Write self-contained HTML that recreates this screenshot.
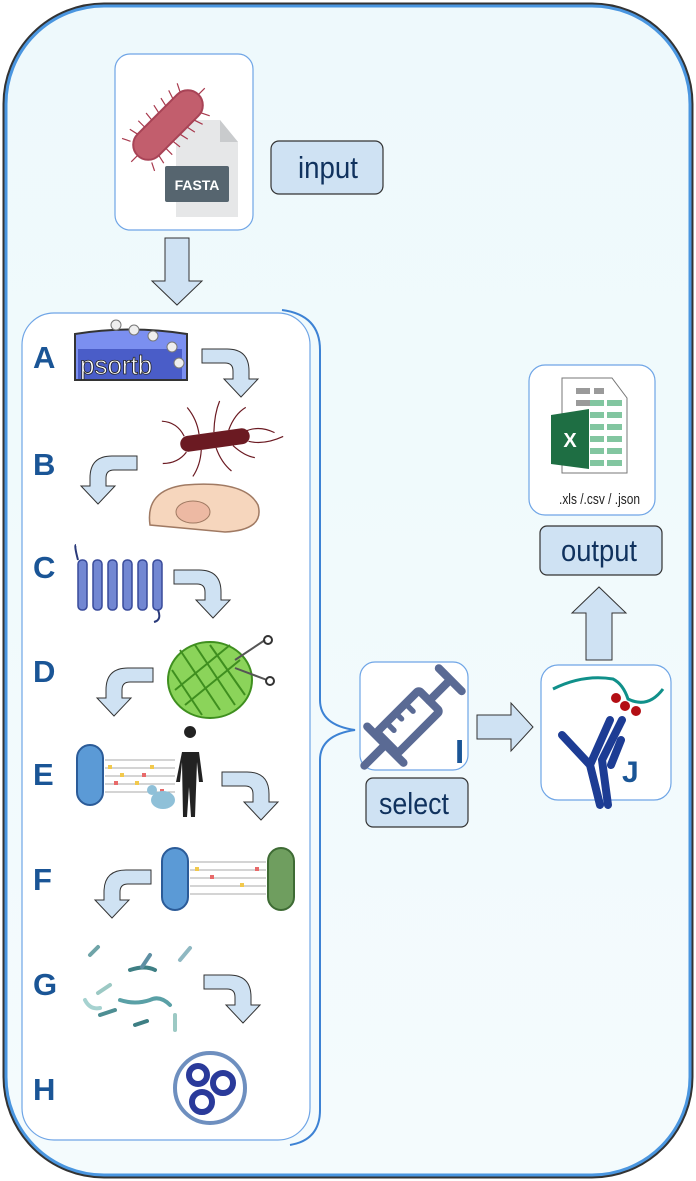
<!DOCTYPE html>
<html><head><style>
html,body{margin:0;padding:0;background:#fff;}
svg{display:block}
text{font-family:"Liberation Sans",sans-serif}
.lbl{fill:#10325e}
.L{font-size:31px;font-weight:bold;fill:#1a5596}
</style></head><body>
<svg width="696" height="1181" viewBox="0 0 696 1181" xmlns="http://www.w3.org/2000/svg">
<defs>
<linearGradient id="bg" x1="0" y1="0" x2="0" y2="1"><stop offset="0" stop-color="#eef9fc"/><stop offset="1" stop-color="#f4fbfd"/></linearGradient>
<path id="ca" d="M0 0 h25 q22 0 22 22 v8 h9 l-17 18 l-17 -18 h9 v-8 q0 -8 -8 -8 h-23z" fill="#cfe2f3" stroke="#333" stroke-width="1"/>
</defs>
<rect x="0" y="0" width="696" height="1181" fill="#fff"/>
<rect x="4" y="4" width="688" height="1173" rx="100" fill="url(#bg)" stroke="#333" stroke-width="3"/>
<rect x="6" y="6" width="684" height="1169" rx="98" fill="none" stroke="#4a96e0" stroke-width="3"/>

<rect x="115" y="54" width="138" height="176" rx="15" fill="#fff" stroke="#6fa5e6" stroke-width="1.2"/>
<path d="M176 120 h44 l18 22 v75 h-62z" fill="#e6e7e8"/>
<path d="M220 120 l18 22 h-18z" fill="#c9cbcd"/>
<rect x="165" y="166" width="64" height="36" rx="2" fill="#56656f"/>
<text x="197" y="190" font-size="14" font-weight="bold" fill="#fff" text-anchor="middle">FASTA</text>
<g transform="rotate(-45 168 125)">
<rect x="125" y="110" width="86" height="30" rx="15" fill="#c25e6d" stroke="#a84356" stroke-width="2"/>
<g stroke="#a83a4e" stroke-width="1.2">
<path d="M130 110 l-4 -8 M140 110 l-2 -9 M150 110 l0 -9 M160 110 l1 -9 M170 110 l2 -9 M180 110 l2 -9 M190 110 l3 -9 M200 110 l4 -8 M130 140 l-4 8 M140 140 l-2 9 M150 140 l0 9 M160 140 l1 9 M170 140 l2 9 M180 140 l2 9 M190 140 l3 9 M200 140 l4 8 M125 125 h-9 M211 125 h9"/>
</g>
</g>
<rect x="271" y="141" width="112" height="53" rx="8" fill="#cfe2f3" stroke="#333" stroke-width="1.2"/>
<text x="298" y="178" font-size="31" class="lbl" textLength="60" lengthAdjust="spacingAndGlyphs">input</text>
<path d="M165 238 h24 v43 h13 l-25 24 l-25 -24 h13z" fill="#cfe2f3" stroke="#333" stroke-width="1"/>

<rect x="22" y="313" width="288" height="827" rx="32" fill="#fff" stroke="#6fa5e6" stroke-width="1.2"/>
<path d="M282 310 Q320 315 320 350 V700 Q320 725 355 730 Q320 735 320 760 V1110 Q320 1140 290 1145" fill="none" stroke="#3d82d4" stroke-width="2"/>

<text class="L" x="33" y="368">A</text>
<text class="L" x="33" y="475">B</text>
<text class="L" x="33" y="578">C</text>
<text class="L" x="33" y="682">D</text>
<text class="L" x="33" y="785">E</text>
<text class="L" x="33" y="890">F</text>
<text class="L" x="33" y="995">G</text>
<text class="L" x="33" y="1100">H</text>

<path d="M75 334 Q130 325 187 334 V380 H75z" fill="#7b8ff0" stroke="#333" stroke-width="2"/>
<rect x="78" y="349" width="104" height="30" fill="#4a5dc8"/>
<text x="80" y="374" font-size="26" fill="#fff" stroke="#222" stroke-width="0.8">psortb</text>
<g fill="#eee" stroke="#777"><circle cx="116" cy="325" r="5"/><circle cx="134" cy="330" r="5"/><circle cx="153" cy="336" r="5"/><circle cx="172" cy="347" r="5"/><circle cx="179" cy="363" r="5"/></g>

<use href="#ca" transform="translate(202 349)"/>
<use href="#ca" transform="translate(137 456) scale(-1 1)"/>
<use href="#ca" transform="translate(174 570)"/>
<use href="#ca" transform="translate(153 668) scale(-1 1)"/>
<use href="#ca" transform="translate(222 772)"/>
<use href="#ca" transform="translate(151 870) scale(-1 1)"/>
<use href="#ca" transform="translate(204 975)"/>

<path d="M150 525 Q145 490 185 485 Q245 480 258 505 Q265 530 225 532 Z" fill="#f6d6bd" stroke="#a07a63" stroke-width="1.5"/>
<ellipse cx="193" cy="512" rx="17" ry="11" fill="#edb9a3" stroke="#a07a63"/>
<g transform="rotate(-8 215 440)">
<rect x="180" y="432" width="70" height="16" rx="8" fill="#6b1a22"/>
<g stroke="#6b1a22" stroke-width="1.2" fill="none">
<path d="M185 432 q-5 -15 -20 -18 M200 432 q0 -15 -8 -28 M215 432 q3 -18 10 -30 M230 432 q8 -15 20 -20 M245 436 q15 -5 30 5 M185 448 q-10 10 -25 8 M200 448 q-3 15 -12 25 M215 448 q3 15 12 25 M232 448 q10 12 20 15 M248 446 q15 6 35 0"/>
</g></g>

<g fill="#7287d2" stroke="#384a9a" stroke-width="1.5">
<rect x="78" y="560" width="9" height="50" rx="4"/><rect x="93" y="560" width="9" height="50" rx="4"/><rect x="108" y="560" width="9" height="50" rx="4"/><rect x="123" y="560" width="9" height="50" rx="4"/><rect x="138" y="560" width="9" height="50" rx="4"/><rect x="153" y="560" width="9" height="50" rx="4"/>
</g>
<path d="M78 560 q-4 -15 -2 -15 M158 610 q4 10 -4 12" stroke="#2a3a7a" stroke-width="2" fill="none"/>

<ellipse cx="210" cy="680" rx="42" ry="38" fill="#8bd45a" stroke="#3f8f1f" stroke-width="2"/>
<g stroke="#3f8f1f" stroke-width="2" fill="none"><path d="M180 650 l40 60 M195 645 l40 60 M172 670 l30 45 M210 645 l35 50 M175 690 l55 -45 M185 705 l55 -45"/></g>
<path d="M235 660 l30 -20 M235 668 l32 12" stroke="#555" stroke-width="2"/><circle cx="268" cy="640" r="4" fill="none" stroke="#333" stroke-width="2"/><circle cx="270" cy="681" r="4" fill="none" stroke="#333" stroke-width="2"/>

<rect x="77" y="745" width="26" height="60" rx="13" fill="#5b9ad6" stroke="#2b5b98" stroke-width="2"/>
<g stroke="#aaa" stroke-width="1"><path d="M105 760 h70 M105 768 h70 M105 776 h70 M105 784 h70 M105 792 h70"/></g>
<g fill="#f2c94c"><rect x="108" y="765" width="4" height="4"/><rect x="120" y="773" width="4" height="4"/><rect x="135" y="781" width="4" height="4"/><rect x="150" y="765" width="4" height="4"/></g>
<g fill="#e86a6a"><rect x="114" y="781" width="4" height="4"/><rect x="142" y="773" width="4" height="4"/><rect x="160" y="789" width="4" height="4"/></g>
<path d="M190 738 a6 6 0 1 1 0.1 0 M182 752 h17 l4 30 h-4 l-2 -20 -2 55 h-4 l-2 -30 -2 30 h-4 l-1 -55 -2 20 h-4z" fill="#222"/>
<ellipse cx="163" cy="800" rx="12" ry="9" fill="#8fc0d8"/><circle cx="152" cy="790" r="5" fill="#8fc0d8"/>

<rect x="162" y="848" width="26" height="62" rx="13" fill="#5b9ad6" stroke="#2b5b98" stroke-width="2"/>
<rect x="268" y="848" width="26" height="62" rx="13" fill="#6f9e5f" stroke="#3e6b34" stroke-width="2"/>
<g stroke="#aaa" stroke-width="1"><path d="M190 862 h76 M190 870 h76 M190 878 h76 M190 886 h76 M190 894 h76"/></g>
<g fill="#f2c94c"><rect x="195" y="867" width="4" height="4"/><rect x="240" y="883" width="4" height="4"/></g>
<g fill="#e86a6a"><rect x="210" y="875" width="4" height="4"/><rect x="255" y="867" width="4" height="4"/></g>

<g stroke-width="4" stroke-linecap="round" fill="none">
<path d="M90 955 l8 -8" stroke="#6fa4a8"/><path d="M110 985 l-12 8" stroke="#9cc9c4"/><path d="M130 970 q15 -5 25 0" stroke="#3e7f84"/><path d="M150 955 l-8 12" stroke="#5e8fa3"/><path d="M180 960 l10 -12" stroke="#8fb8c2"/><path d="M100 1015 l15 -5" stroke="#4d8e93"/><path d="M120 1000 q15 5 30 0 q10 -5 20 5" stroke="#5aa0a6"/><path d="M85 1000 q5 10 15 8" stroke="#a6d2d0"/><path d="M175 1015 v15" stroke="#9cc9c4"/><path d="M135 1025 l12 -4" stroke="#3e7f84"/>
</g>

<circle cx="210" cy="1088" r="35" fill="#fff" stroke="#6e8fbf" stroke-width="4"/>
<g fill="none" stroke="#2a3a9a" stroke-width="6"><circle cx="198" cy="1075" r="9"/><circle cx="223" cy="1083" r="10"/><circle cx="202" cy="1102" r="10"/></g>

<rect x="360" y="662" width="108" height="108" rx="15" fill="#fff" stroke="#6fa5e6" stroke-width="1.2"/>
<g transform="translate(414 716) scale(1.35) rotate(-45) translate(-414 -716)" stroke="#5a6a94" stroke-width="6" stroke-linecap="round" fill="none">
<path d="M362 716 h22"/>
<rect x="386" y="705" width="44" height="22" rx="2" stroke-linecap="butt"/>
<path d="M384 697 v38"/>
<path d="M430 716 h22 M452 704 v24"/>
<path d="M396 705 v8 M406 705 v6 M416 705 v8" stroke-width="4"/>
</g>
<text x="455" y="763" font-size="33" font-weight="bold" fill="#1a5596">I</text>
<rect x="366" y="778" width="102" height="49" rx="7" fill="#cfe2f3" stroke="#333" stroke-width="1.2"/>
<text x="379" y="814" font-size="31" class="lbl" textLength="70" lengthAdjust="spacingAndGlyphs">select</text>

<path d="M477 715 h34 v-12 l22 24 l-22 24 v-12 h-34z" fill="#cfe2f3" stroke="#333" stroke-width="1"/>

<rect x="541" y="665" width="130" height="135" rx="17" fill="#fff" stroke="#6fa5e6" stroke-width="1.2"/>
<path d="M553 689 q30 -15 60 -10 q10 5 15 20 q20 10 35 -10" stroke="#10908a" stroke-width="3" fill="none"/>
<g fill="#b30e14"><circle cx="616" cy="698" r="5"/><circle cx="625" cy="706" r="5"/><circle cx="636" cy="711" r="5"/></g>
<g stroke="#1d3c94" stroke-width="8" stroke-linecap="round" fill="none"><path d="M562 735 l28 30 l10 40 M610 720 l-20 45 M608 805 l-6 -45 l20 -40 M621 740 l-10 25"/></g>
<text x="622" y="782" font-size="30" font-weight="bold" fill="#1a5596">J</text>

<path d="M586 660 v-47 h-14 l27 -26 l27 26 h-14 v47z" fill="#cfe2f3" stroke="#333" stroke-width="1"/>
<rect x="540" y="526" width="122" height="49" rx="7" fill="#cfe2f3" stroke="#333" stroke-width="1.2"/>
<text x="561" y="561" font-size="31" class="lbl" textLength="76" lengthAdjust="spacingAndGlyphs">output</text>

<rect x="529" y="365" width="126" height="150" rx="16" fill="#fff" stroke="#6fa5e6" stroke-width="1.2"/>
<path d="M562 378 h50 l15 20 v75 h-65z" fill="#fff" stroke="#777"/>
<g fill="#9a9a9a"><rect x="576" y="388" width="14" height="6"/><rect x="594" y="388" width="10" height="6"/><rect x="576" y="400" width="14" height="6"/></g>
<g fill="#82c6a0"><rect x="590" y="400" width="14" height="6"/><rect x="607" y="400" width="15" height="6"/><rect x="590" y="412" width="14" height="6"/><rect x="607" y="412" width="15" height="6"/><rect x="590" y="424" width="14" height="6"/><rect x="607" y="424" width="15" height="6"/><rect x="590" y="436" width="14" height="6"/><rect x="607" y="436" width="15" height="6"/><rect x="590" y="448" width="14" height="6"/><rect x="607" y="448" width="15" height="6"/><rect x="590" y="460" width="14" height="6"/><rect x="607" y="460" width="15" height="6"/></g>
<path d="M551 415 l38 -6 v60 l-38 -5z" fill="#1e6e43"/>
<text x="570" y="447" font-size="20" font-weight="bold" fill="#fff" text-anchor="middle">X</text>
<text x="559" y="504" font-size="15" fill="#222" textLength="81" lengthAdjust="spacingAndGlyphs">.xls /.csv / .json</text>
</svg>
</body></html>
